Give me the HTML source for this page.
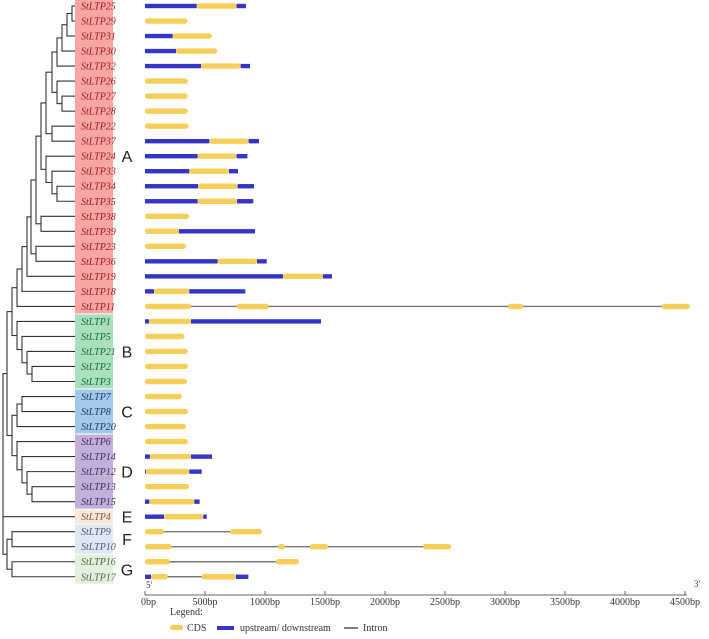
<!DOCTYPE html>
<html><head><meta charset="utf-8"><style>
body{margin:0;background:#fff;width:709px;height:634px;overflow:hidden}
svg text{font-family:"Liberation Serif",serif}
svg text.grp{font-family:"Liberation Sans",sans-serif}
</style></head><body>
<svg id="chart" width="709" height="634" xmlns="http://www.w3.org/2000/svg">
<g id="tree"></g>
<g id="boxes"></g>
<g id="genes"></g>
<g id="axis"></g>
<g id="legend">
<text x="170" y="615" font-size="10" fill="#333">Legend:</text>
<rect x="170" y="625" width="13" height="5" rx="2.5" fill="#f5cf5a"/>
<text x="187" y="631" font-size="10" fill="#333">CDS</text>
<rect x="217" y="626" width="17" height="4" fill="#3535c8"/>
<text x="240" y="631" font-size="10" fill="#333">upstream/ downstream</text>
<line x1="344" y1="628" x2="358" y2="628" stroke="#555" stroke-width="1.5"/>
<text x="363" y="631" font-size="10" fill="#333">Intron</text>
</g>
</svg>
<script>
const genes=["StLTP25","StLTP29","StLTP31","StLTP30","StLTP32","StLTP26","StLTP27","StLTP28","StLTP22","StLTP37","StLTP24","StLTP33","StLTP34","StLTP35","StLTP38","StLTP39","StLTP23","StLTP36","StLTP19","StLTP18","StLTP11","StLTP1","StLTP5","StLTP21","StLTP2","StLTP3","StLTP7","StLTP8","StLTP20","StLTP6","StLTP14","StLTP12","StLTP13","StLTP15","StLTP4","StLTP9","StLTP10","StLTP16","StLTP17"];
const groupNames=["A","B","C","D","E","F","G"];
const groupSizes=[21,5,3,5,1,2,2];
const structures=[
[["U",0,431],["C",431,763],["U",763,841]],
[["C",0,353]],
[["U",0,231],["C",231,556]],
[["U",0,259],["C",259,600]],
[["U",0,467],["C",467,797],["U",797,875]],
[["C",0,356]],[["C",0,353]],[["C",0,356]],[["C",0,361]],
[["U",0,536],["C",536,864],["U",864,950]],
[["U",0,439],["C",439,763],["U",763,853]],
[["U",0,369],["C",369,700],["U",700,775]],
[["U",0,442],["C",442,772],["U",772,908]],
[["U",0,439],["C",439,767],["U",767,902]],
[["C",0,366]],
[["C",0,283],["U",283,917]],
[["C",0,339]],
[["U",0,605],["C",605,933],["U",933,1014]],
[["U",0,1150],["C",1150,1483],["U",1483,1558]],
[["U",0,75],["C",75,369],["U",369,836]],
[["C",0,383],["C",764,1031],["C",3025,3150],["C",4308,4540]],
[["U",0,33],["C",33,383],["U",383,1467]],
[["C",0,328]],[["C",0,356]],[["C",0,356]],[["C",0,348]],
[["C",0,305]],[["C",0,356]],[["C",0,341]],[["C",0,356]],
[["U",0,41],["C",41,383],["U",383,559]],
[["U",0,8],["C",8,369],["U",369,472]],
[["C",0,366]],
[["U",0,36],["C",36,411],["U",411,455]],
[["U",0,158],["C",158,486],["U",486,514]],
[["C",0,158],["C",709,973]],
[["C",0,222],["C",1111,1167],["C",1375,1525],["C",2317,2550]],
[["C",0,208],["C",1092,1283]],
[["U",0,50],["C",50,189],["C",472,758],["U",758,861]]
];
const tickLabels=["0bp","500bp","1000bp","1500bp","2000bp","2500bp","3000bp","3500bp","4000bp","4500bp"];
const tickValues=[0,500,1000,1500,2000,2500,3000,3500,4000,4500];
// tree: [nodeDepthX, children...], leaves = gene indices
const cladeTop=[46,[52,[57,[62,[67,[72,0,1],2],3],4],[57,5,[62,6,7]]],[52,8,9]];
const cladeMid=[46,10,[52,11,[57,12,13]]];
const cladeA=[17,[22,[27,[31,[36,[41,cladeTop,cladeMid],[41,14,15]],[36,16,17]],18],19],20];
const cladeB=[17,21,[22,22,[27,23,[32,24,25]]]];
const cladeC=[17,[22,26,27],28];
const cladeD=[17,29,[22,30,[27,31,[32,32,33]]]];
const treeData=[3,[7,[12,cladeA,cladeB],[12,cladeC,cladeD]],34,[7,[12,35,36],[12,37,38]]];

const NS="http://www.w3.org/2000/svg";
const rowY=i=>6+i*15.02;
const bx=bp=>145+bp*0.12;
function mk(tag,attrs,parent){const e=document.createElementNS(NS,tag);for(const k in attrs)e.setAttribute(k,attrs[k]);parent.appendChild(e);return e;}
const gTree=document.getElementById('tree'),gBox=document.getElementById('boxes'),gGen=document.getElementById('genes'),gAx=document.getElementById('axis');
const LEAFX=76;
function draw(n){
 if(typeof n==='number')return {x:LEAFX,y:rowY(n)};
 const x=n[0];const ch=n.slice(1).map(draw);
 ch.forEach(c=>{const l=mk('line',{x1:x,y1:c.y,x2:c.x,y2:c.y,stroke:'#333','stroke-width':1.1},gTree);
  
  });
 const v=mk('line',{x1:x,y1:ch[0].y-0.5,x2:x,y2:ch[ch.length-1].y+0.5,stroke:'#333','stroke-width':1.1},gTree);
 
 
 return {x:x,y:(ch[0].y+ch[ch.length-1].y)/2};
}
draw(treeData);
const boxFill=["#f7a5a5","#a8e0be","#a3c8e8","#c2b0d8","#fbe8dc","#e0e8f4","#e4efdf"];
const txtFill=["#9b1c1c","#1a6b3a","#1f3f70","#4a2a6a","#7a5a40","#4a5a7a","#4a6a40"];
let idx=0;
groupSizes.forEach((s,g)=>{
 const y0=rowY(idx)-7.5,y1=rowY(idx+s-1)+7.5;
 const r=mk('rect',{x:75,y:y0+0.5,width:38,height:y1-y0-1,fill:boxFill[g]},gBox);
 
 
 const t=mk('text',{x:127,y:(y0+y1)/2+6,'font-size':16,fill:'#222','text-anchor':'middle','class':'grp'},gBox);
 t.textContent=groupNames[g];
 
 
 for(let k=0;k<s;k++){
  const i=idx+k;
  const tt=mk('text',{x:81,y:rowY(i)+3.5,'font-size':10,'font-style':'italic',fill:txtFill[g]},gBox);
  tt.textContent=genes[i];
  
  
 }
 idx+=s;
});
structures.forEach((segs,i)=>{
 const y=rowY(i);
 const g=mk('g',{},gGen);
 
 
 const end=segs[segs.length-1][2];
 const ln=mk('line',{x1:bx(0),y1:y,x2:bx(end),y2:y,stroke:'#777','stroke-width':1.4},g);
 
 
 segs.forEach(s=>{
  const isC=s[0]==='C';
  const r=mk('rect',{x:bx(s[1]),y:isC?y-2.7:y-2.2,width:bx(s[2])-bx(s[1]),height:isC?5.4:4.4,rx:isC?2.5:0,fill:isC?'#f5cf5a':'#3535c8'},g);
  
  
 });
});
const AY=595;
const al=mk('line',{x1:bx(0),y1:AY,x2:bx(4500)+2,y2:AY,stroke:'#666','stroke-width':1},gAx);


tickValues.forEach((v,k)=>{
 const tk=mk('line',{x1:bx(v),y1:AY-4,x2:bx(v),y2:AY,stroke:'#666','stroke-width':1},gAx);
 
 
 const t=mk('text',{x:bx(v),y:AY+10,'font-size':10,fill:'#333','text-anchor':k===0?'start':'middle'},gAx);
 t.textContent=tickLabels[k];
 if(k===0)t.setAttribute('x',bx(v)-4);
 
 
});
const p5=mk('text',{x:bx(0)+1,y:AY-7,'font-size':9,fill:'#333'},gAx);p5.textContent="5'";


const p3=mk('text',{x:bx(4500)+9,y:AY-8,'font-size':9,fill:'#333'},gAx);p3.textContent="3'";


</script>
</body></html>
